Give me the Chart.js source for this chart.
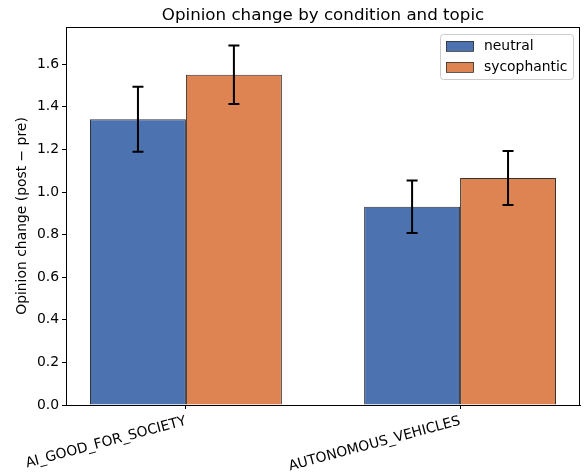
<!DOCTYPE html>
<html>
<head>
<meta charset="utf-8">
<script src="https://cdn.jsdelivr.net/npm/chart.js@4.4.1/dist/chart.umd.min.js"></script>
<style>
    html, body { margin: 0; padding: 0; background: #fff; }
    #wrap { width: 585px; height: 474px; }
</style>
</head>
<body>
<div id="wrap"><canvas id="chart" width="585" height="474"></canvas></div>
<script>
// data
const topics = ["AI_GOOD_FOR_SOCIETY", "AUTONOMOUS_VEHICLES"];
const neutralMeans = [1.342, 0.931];
const neutralErr = [0.153, 0.123];
const sycoMeans = [1.551, 1.066];
const sycoErr = [0.137, 0.127];
const yTicks = [0, 0.2, 0.4, 0.6, 0.8, 1.0, 1.2, 1.4, 1.6];

const FONT = "'DejaVu Sans', sans-serif";

const toPoints = (vals) => vals.map((v, i) => ({ x: i, y: v }));

// error bars drawn from the same scales as the bars
const errorBars = {
    id: "errorBars",
    afterDatasetsDraw(chart) {
        const ctx = chart.ctx;
        const yScale = chart.scales.y;
        chart.data.datasets.forEach((ds, di) => {
            const meta = chart.getDatasetMeta(di);
            meta.data.forEach((bar, i) => {
                const v = ds.data[i].y;
                const e = ds.errors[i];
                const top = yScale.getPixelForValue(v + e);
                const bot = yScale.getPixelForValue(v - e);
                ctx.save();
                ctx.strokeStyle = "#000";
                ctx.lineWidth = 2;
                ctx.beginPath();
                ctx.moveTo(bar.x, top);
                ctx.lineTo(bar.x, bot);
                ctx.moveTo(bar.x - 5.5, top);
                ctx.lineTo(bar.x + 5.5, top);
                ctx.moveTo(bar.x - 5.5, bot);
                ctx.lineTo(bar.x + 5.5, bot);
                ctx.stroke();
                ctx.restore();
            });
        });
    }
};

// frame, title and legend in matplotlib style
const decorations = {
    id: "decorations",
    afterDraw(chart) {
        const ctx = chart.ctx;
        const a = chart.chartArea;
        ctx.save();
        ctx.strokeStyle = "#000";
        ctx.lineWidth = 1;
        ctx.strokeRect(a.left + 0.5, a.top + 0.5, a.right - a.left - 1, a.bottom - a.top);

        ctx.fillStyle = "#000";
        ctx.font = "16.7px " + FONT;
        ctx.textAlign = "center";
        ctx.textBaseline = "alphabetic";
        ctx.fillText("Opinion change by condition and topic", (a.left + a.right) / 2, 20);

        // legend box top right
        const bx = a.right - 140, by = a.top + 7, bw = 133, bh = 45;
        ctx.fillStyle = "rgba(255,255,255,0.8)";
        ctx.strokeStyle = "#cccccc";
        ctx.lineWidth = 1;
        ctx.beginPath();
        ctx.roundRect(bx + 0.5, by + 0.5, bw, bh, 3);
        ctx.fill();
        ctx.stroke();

        ctx.font = "13.9px " + FONT;
        ctx.textAlign = "left";
        ctx.textBaseline = "middle";
        chart.data.datasets.forEach((ds, i) => {
            const ry = by + 7 + i * 21;
            ctx.fillStyle = ds.backgroundColor;
            ctx.strokeStyle = "#333";
            ctx.lineWidth = 0.8;
            ctx.fillRect(bx + 6, ry, 28, 10);
            ctx.strokeRect(bx + 6.5, ry + 0.5, 27, 10);
            ctx.fillStyle = "#000";
            ctx.fillText(ds.label, bx + 44, ry + 5.5);
        });
        ctx.restore();
    }
};

const ctx = document.getElementById("chart").getContext("2d");
new Chart(ctx, {
    type: "bar",
    data: {
        datasets: [
            {
                label: "neutral",
                data: toPoints(neutralMeans),
                errors: neutralErr,
                backgroundColor: "#4c72b0",
                borderColor: "#333333",
                borderWidth: 1
            },
            {
                label: "sycophantic",
                data: toPoints(sycoMeans),
                errors: sycoErr,
                backgroundColor: "#dd8452",
                borderColor: "#333333",
                borderWidth: 1
            }
        ]
    },
    options: {
        responsive: false,
        animation: false,
        categoryPercentage: 0.7,
        barPercentage: 1.0,
        layout: { padding: { top: 27, right: 5, left: 0, bottom: 0 } },
        plugins: {
            legend: { display: false },
            title: { display: false },
            tooltip: { enabled: false }
        },
        scales: {
            x: {
                type: "linear",
                offset: false,
                min: -0.4375,
                max: 1.4375,
                afterBuildTicks: (scale) => {
                    scale.ticks = topics.map((t, i) => ({ value: i }));
                },
                afterFit: (scale) => { scale.height = 69; },
                grid: { display: true, offset: false, drawOnChartArea: false, drawTicks: true, tickLength: 4, color: "#000" },
                border: { display: true, color: "#000" },
                ticks: {
                    autoSkip: false,
                    minRotation: 15,
                    maxRotation: 15,
                    padding: 4,
                    color: "#000",
                    font: { family: FONT, size: 13.9 },
                    callback: (v) => topics[v]
                }
            },
            y: {
                min: 0,
                max: 1.775,
                afterBuildTicks: (scale) => {
                    scale.ticks = yTicks.map((v) => ({ value: v }));
                },
                afterFit: (scale) => { scale.width = 66; },
                grid: { display: true, drawOnChartArea: false, drawTicks: true, tickLength: 4, color: "#000" },
                border: { display: true, color: "#000" },
                ticks: {
                    padding: 3,
                    color: "#000",
                    font: { family: FONT, size: 13.9 },
                    callback: (v) => v.toFixed(1)
                },
                title: {
                    display: true,
                    text: "Opinion change (post \u2212 pre)",
                    color: "#000",
                    font: { family: FONT, size: 13.9 },
                    padding: { top: 14, bottom: 0 }
                }
            }
        }
    },
    plugins: [errorBars, decorations]
});
</script>
</body>
</html>
